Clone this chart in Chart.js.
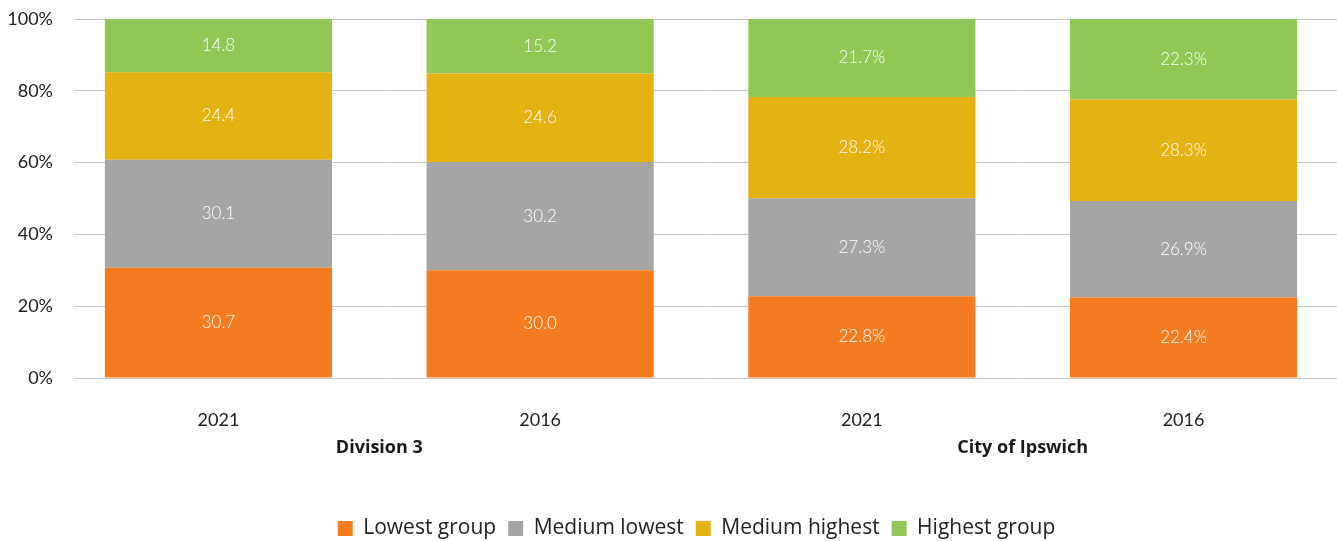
<!DOCTYPE html>
<html>
<head>
<meta charset="utf-8">
<script src="https://cdn.jsdelivr.net/npm/chart.js@4"></script>
<style>
  html, body { margin: 0; padding: 0; background: #fff; overflow: hidden; }
  #wrap { width: 1337px; height: 541px; }
</style>
</head>
<body>
<div id="wrap"><canvas id="myChart"></canvas></div>
<script>
// DATA
const years = ['2021', '2016', '2021', '2016'];
const groups = ['Division 3', 'City of Ipswich'];
const suffixes = ['', '', '%', '%'];
const seriesNames = ['Lowest group', 'Medium lowest', 'Medium highest', 'Highest group'];
const lowest = [30.7, 30.0, 22.8, 22.4];
const mediumLowest = [30.1, 30.2, 27.3, 26.9];
const mediumHighest = [24.4, 24.6, 28.2, 28.3];
const highest = [14.8, 15.2, 21.7, 22.3];
const yTicks = [0, 20, 40, 60, 80, 100];

const colors = ['#f47b20', '#a5a5a4', '#e5b213', '#92c755'];
const allSeries = [lowest, mediumLowest, mediumHighest, highest];

// labels inside the bars
const barLabels = {
    id: 'barLabels',
    afterDatasetsDraw(chart) {
        const ctx = chart.ctx;
        ctx.save();
        ctx.fillStyle = '#ffffff';
        ctx.font = '300 17px Lato';
        ctx.textAlign = 'center';
        ctx.textBaseline = 'middle';
        chart.data.datasets.forEach(function (ds, d) {
            chart.getDatasetMeta(d).data.forEach(function (bar, i) {
                const txt = ds.data[i].y.toFixed(1) + suffixes[i];
                ctx.fillText(txt, bar.x, (bar.y + bar.base) / 2);
            });
        });
        ctx.restore();
    }
};

// group names under the years
const groupLabels = {
    id: 'groupLabels',
    afterLayout(chart) {
        // legend sits a little right of centre in the original
        chart.legend.left += 28;
        chart.legend.right += 28;
    },
    afterDraw(chart) {
        const ctx = chart.ctx;
        const x = chart.scales.x;
        ctx.save();
        ctx.fillStyle = '#1a1a1a';
        ctx.font = 'bold 18px "Open Sans"';
        ctx.textAlign = 'center';
        ctx.textBaseline = 'middle';
        groups.forEach(function (g, k) {
            const cx = (x.getPixelForValue(2 * k) + x.getPixelForValue(2 * k + 1)) / 2;
            ctx.fillText(g, cx, x.top + 70);
        });
        ctx.restore();
    }
};

const data = {
    datasets: seriesNames.map(function (name, s) {
        return {
            label: name,
            data: allSeries[s].map(function (v, i) { return { x: i, y: v }; }),
            backgroundColor: colors[s],
            borderWidth: 0,
            barPercentage: 0.706,
            categoryPercentage: 1
        };
    })
};

const config = {
    type: 'bar',
    data: data,
    options: {
        responsive: true,
        maintainAspectRatio: false,
        animation: false,
        layout: { padding: { top: 0, right: 0, left: 0, bottom: -8 } },
        scales: {
            x: {
                type: 'linear',
                stacked: true,
                offset: false,
                min: -0.449,
                max: 3.477,
                grid: { display: false, drawTicks: false, offset: false },
                border: { display: false },
                afterBuildTicks: function (axis) {
                    axis.ticks = years.map(function (y, i) { return { value: i }; });
                },
                afterFit: function (axis) { axis.height = 128; },
                ticks: {
                    padding: 31,
                    color: '#222',
                    font: { family: 'Lato', size: 18 },
                    callback: function (v) { return years[v]; }
                }
            },
            y: {
                stacked: true,
                min: 0,
                max: 100,
                afterBuildTicks: function (axis) {
                    axis.ticks = yTicks.map(function (v) { return { value: v }; });
                },
                afterFit: function (axis) {
                    axis.width = 74;
                    axis.paddingTop = 19;
                    axis.paddingBottom = 10;
                },
                grid: { color: '#c4c4c4', lineWidth: 1, drawTicks: false },
                border: { display: false },
                ticks: {
                    padding: 21,
                    color: '#222',
                    font: { family: 'Lato', size: 18 },
                    callback: function (v) { return v + '%'; }
                }
            }
        },
        plugins: {
            legend: {
                position: 'bottom',
                labels: {
                    boxWidth: 15,
                    boxHeight: 15,
                    padding: 12,
                    color: '#222',
                    font: { family: 'Open Sans', size: 21 }
                }
            },
            tooltip: { enabled: false }
        }
    },
    plugins: [barLabels, groupLabels]
};

const myChart = new Chart(document.getElementById('myChart'), config);
</script>
</body>
</html>
